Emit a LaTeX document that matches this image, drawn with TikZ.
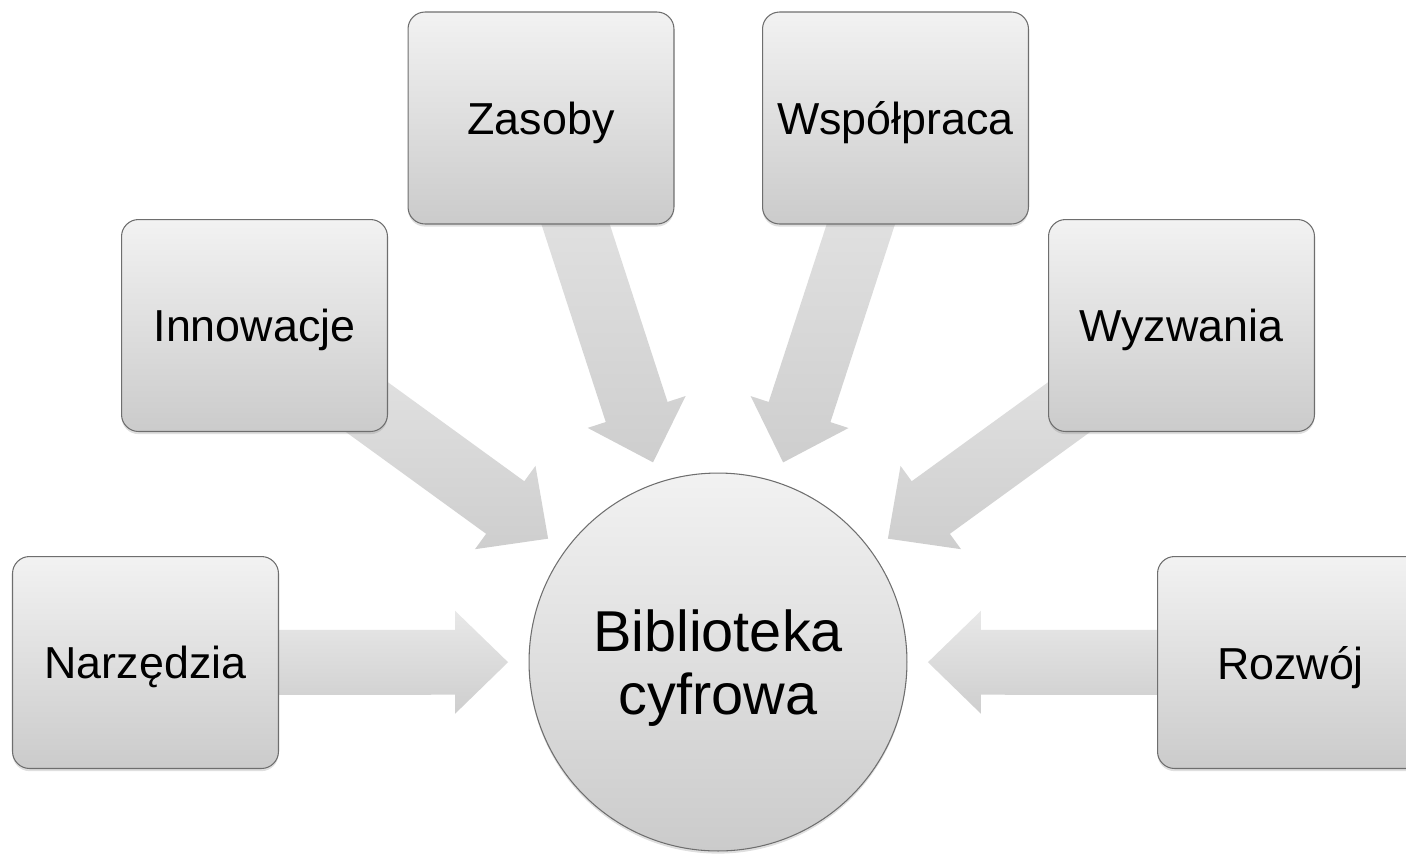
\documentclass[tikz,border=0pt]{standalone}
\usepackage{fontspec}
\setmainfont{Liberation Sans}
\usetikzlibrary{calc, shadows, backgrounds}

\definecolor{boxtop}{HTML}{F2F2F2}
\definecolor{boxbot}{HTML}{CBCBCB}
\definecolor{boxedge}{HTML}{6E6E6E}
\definecolor{arrowtop}{HTML}{E8E8E8}
\definecolor{arrowbot}{HTML}{CECECE}

\begin{document}
\begin{tikzpicture}[
        x=0.02cm, y=-0.02cm,
        shade/.style={top color=boxtop, bottom color=boxbot, draw=boxedge, line width=0.6pt,
            drop shadow={opacity=0.25, shadow xshift=0pt, shadow yshift=-1.5pt}},
        topic/.style={shade, rectangle, rounded corners=0.34cm, minimum width=5.32cm,
            minimum height=4.24cm, text depth=0pt, font=\fontsize{25.5}{30}\selectfont},
        hub/.style={shade, circle, minimum size=7.56cm, align=center, text depth=0pt,
            font=\fontsize{32.8}{35.5}\selectfont},
        flow/.style={top color=arrowtop, bottom color=arrowbot, to path={
            let \p1=(\tikztostart.center), \p2=(\tikztotarget.center),
                \p3=($(\p2)!119.5pt!(\p1)$), \p4=($(\p2)!149.66pt!(\p1)$) in
            ($(\p1)!18.49pt!90:(\p3)$) -- ($(\p4)!18.49pt!90:(\p3)$)
            -- ($(\p4)!29.31pt!90:(\p3)$) -- (\p3)
            -- ($(\p4)!29.31pt!-90:(\p3)$) -- ($(\p4)!18.49pt!-90:(\p3)$)
            -- ($(\p1)!18.49pt!-90:(\p3)$) -- cycle}}
    ]

    \useasboundingbox (0,0) rectangle (1406,853);

    % Centre
    \node[hub] (bib) at (718,662) {Biblioteka\\cyfrowa};

    % Outer boxes
    \node[topic] (narz) at (145.5,662.5) {Narzędzia};
    \node[topic] (inno) at (254.5,325.5) {Innowacje};
    \node[topic] (zas) at (541,118) {Zasoby};
    \node[topic] (wsp) at (895.5,118) {Współpraca};
    \node[topic] (wyz) at (1181.5,325.5) {Wyzwania};
    \node[topic] (roz) at (1290.5,662.5) {Rozwój};

    % Arrows into the centre
    \begin{scope}[on background layer]
        \path[flow] (narz) to (bib);
        \path[flow] (inno) to (bib);
        \path[flow] (zas) to (bib);
        \path[flow] (wsp) to (bib);
        \path[flow] (wyz) to (bib);
        \path[flow] (roz) to (bib);
    \end{scope}

\end{tikzpicture}
\end{document}
